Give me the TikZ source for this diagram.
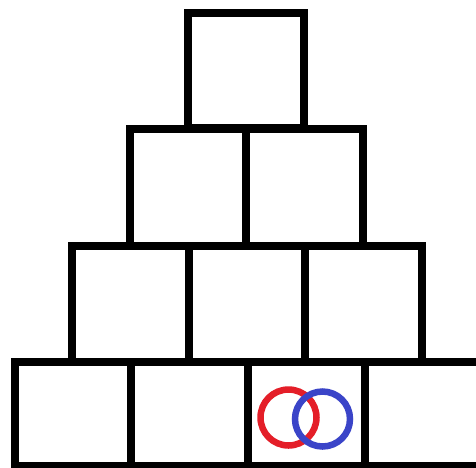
\documentclass[tikz,border=0pt]{standalone}
\definecolor{ringred}{RGB}{228,30,40}
\definecolor{ringblue}{RGB}{58,68,200}
\tikzset{
  brick/.style={draw=black, line width=8pt, line join=miter},
  ring/.style={line width=6.5pt}
}
\begin{document}
\begin{tikzpicture}[x=1pt,y=-1pt]
\useasboundingbox (0,0) rectangle (476,467);
\fill[white] (0,0) rectangle (476,467);
\clip (0,0) rectangle (476,467);
% row 1
\draw[brick] (187.5,12.5) rectangle (304,128);
% row 2
\draw[brick] (130,129) rectangle (245.5,246);
\draw[brick] (245.5,129) rectangle (363,246);
% row 3
\draw[brick] (71.5,246) rectangle (189,362);
\draw[brick] (189,246) rectangle (305,362);
\draw[brick] (305,246) rectangle (421.5,362);
% row 4
\draw[brick] (14.5,362) rectangle (131,466);
\draw[brick] (131,362) rectangle (247.5,466);
\draw[brick] (247.5,362) rectangle (364.5,466);
\draw[brick] (364.5,362) rectangle (490,466);
% rings
\draw[ring, ringred] (288.5,417.5) circle (28);
\draw[ring, ringblue] (322.5,419) circle (27.5);
\end{tikzpicture}
\end{document}
